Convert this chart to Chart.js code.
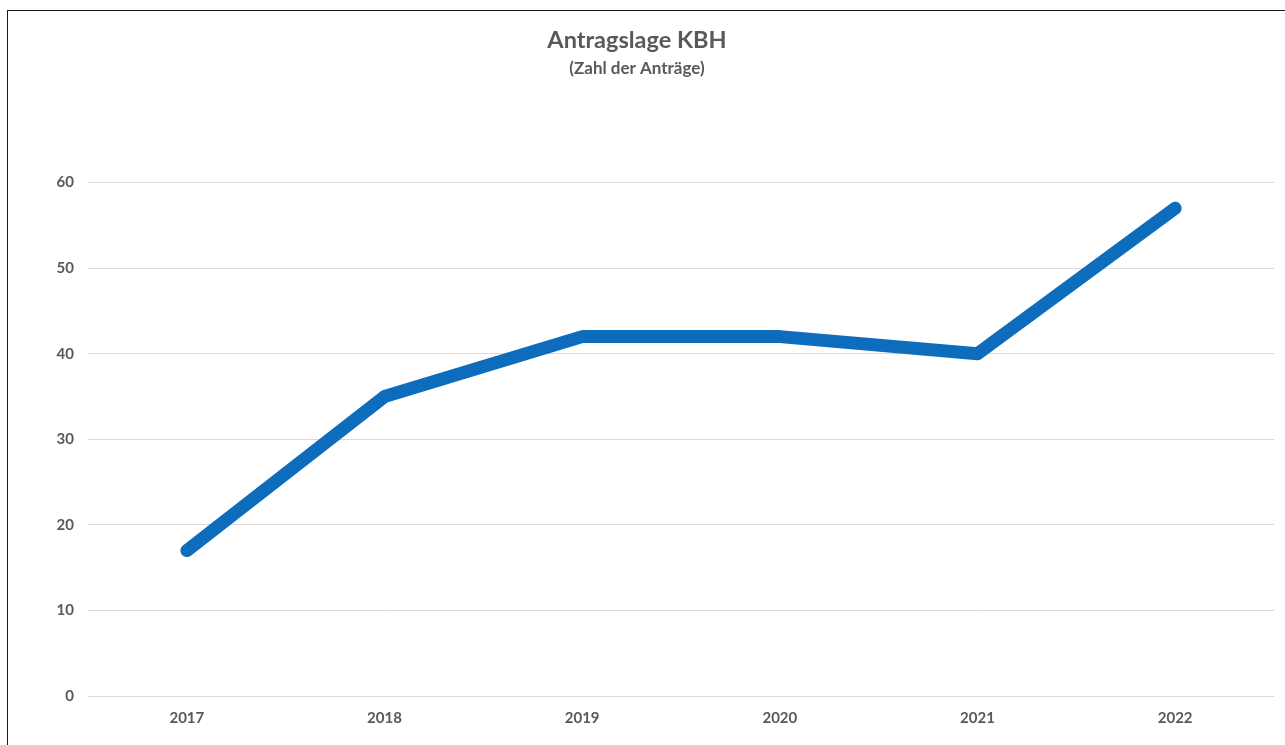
<!DOCTYPE html>
<html lang="de">
<head>
<meta charset="utf-8">
<title>Antragslage KBH</title>
<script src="https://cdn.jsdelivr.net/npm/chart.js@4/dist/chart.umd.min.js"></script>
<style>
  html, body { margin: 0; padding: 0; background: #fff; }
  body { width: 1285px; height: 745px; position: relative; overflow: hidden; }
  .frame {
    position: absolute; left: 7px; top: 10px; right: -5px; bottom: -5px;
    border-left: 1px solid #1a1a1a; border-top: 1px solid #1a1a1a;
  }
  #antragChart { position: absolute; left: 0; top: 0; }
</style>
</head>
<body>
<div class="frame"></div>
<canvas id="antragChart" width="1285" height="745"></canvas>
<script>
// Anträge pro Jahr
const years = ['2017', '2018', '2019', '2020', '2021', '2022'];
const antraege = [17, 35, 42, 42, 40, 57];
const yTicks = [0, 10, 20, 30, 40, 50, 60];

const textColor = '#595959';
const gridColor = '#d9d9d9';
const fontFamily = 'Lato, "Open Sans", sans-serif';

const ctx = document.getElementById('antragChart');
new Chart(ctx, {
  type: 'line',
  data: {
    labels: years,
    datasets: [{
      label: 'Anträge',
      data: antraege,
      borderColor: '#0e6cbd',
      backgroundColor: '#0e6cbd',
      borderWidth: 13,
      borderCapStyle: 'round',
      borderJoinStyle: 'round',
      pointRadius: 0,
      tension: 0,
      fill: false
    }]
  },
  options: {
    responsive: false,
    animation: false,
    layout: { padding: { top: 0, left: 0, right: 11, bottom: 5 } },
    plugins: {
      legend: { display: false },
      tooltip: { enabled: false },
      title: {
        display: true,
        text: 'Antragslage KBH',
        color: textColor,
        font: { family: fontFamily, size: 23.5, weight: 'bold' },
        padding: { top: 26, bottom: 0 }
      },
      subtitle: {
        display: true,
        text: '(Zahl der Anträge)',
        color: textColor,
        font: { family: fontFamily, size: 17, weight: 'bold' },
        padding: { top: 4, bottom: 104 }
      }
    },
    scales: {
      x: {
        offset: true,
        grid: { display: false, drawTicks: false },
        border: { display: false },
        ticks: {
          color: textColor,
          padding: 13,
          font: { family: fontFamily, size: 15, weight: 'bold' }
        }
      },
      y: {
        min: yTicks[0],
        max: yTicks[yTicks.length - 1],
        afterBuildTicks: scale => { scale.ticks = yTicks.map(v => ({ value: v })); },
        afterFit: scale => { scale.width = 88; },
        grid: { color: gridColor, lineWidth: 1, drawTicks: false },
        border: { display: false },
        ticks: {
          color: textColor,
          padding: 14,
          font: { family: fontFamily, size: 15, weight: 'bold' }
        }
      }
    }
  }
});
</script>
</body>
</html>
